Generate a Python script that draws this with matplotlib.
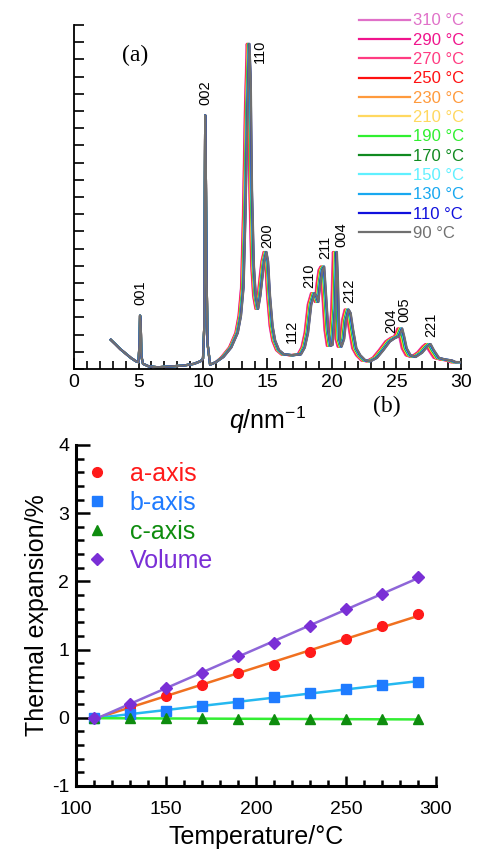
import numpy as np
import matplotlib
matplotlib.use("Agg")
import matplotlib.pyplot as plt
from matplotlib.ticker import MultipleLocator

plt.rcParams["font.family"] = ["Liberation Sans", "DejaVu Sans"]
plt.rcParams["mathtext.fontset"] = "custom"
plt.rcParams["mathtext.rm"] = "Liberation Sans"
plt.rcParams["mathtext.it"] = "Liberation Sans:italic"
plt.rcParams["axes.unicode_minus"] = False

# ---- (a) diffraction profiles, 90 °C profile ----
q_90 = [2.85, 3.2, 3.6, 4.0, 4.4, 4.8, 5.0, 5.08, 5.12, 5.17, 5.22, 5.35, 5.8,
        6.5, 7.5, 8.5, 9.3, 9.8, 10.0, 10.1, 10.17, 10.22, 10.27, 10.35,
        10.55, 11.0, 11.6, 12.2, 12.7, 12.95, 13.15, 13.3, 13.45, 13.6, 13.7,
        13.8, 13.95, 14.1, 14.28, 14.45, 14.6, 14.75, 14.92, 15.05, 15.2, 15.4,
        15.6, 15.9, 16.3, 17.0, 17.6, 17.9, 18.15, 18.4, 18.65, 18.8, 18.95,
        19.1, 19.25, 19.4, 19.55, 19.72, 19.9, 20.05, 20.25, 20.38, 20.47,
        20.58, 20.75, 20.95, 21.1, 21.3, 21.45, 21.65, 21.9, 22.2, 22.6, 23.0,
        23.5, 24.0, 24.5, 24.9, 25.2, 25.45, 25.6, 25.8, 26.1, 26.5, 27.0,
        27.4, 27.65, 27.9, 28.3, 28.8, 29.3, 29.6, 30.0]
I_90 = [0.34, 0.29, 0.23, 0.18, 0.13, 0.09, 0.08, 0.3, 0.62, 0.55, 0.15, 0.06,
        0.03, 0.02, 0.03, 0.04, 0.06, 0.09, 0.12, 0.5, 2.95, 2.3, 1.2, 0.3,
        0.05, 0.08, 0.14, 0.25, 0.42, 0.62, 0.95, 1.8, 3.0, 3.78, 3.4,
        2.1, 1.2, 0.85, 0.7, 0.85, 1.05, 1.25, 1.36, 1.25, 0.85, 0.5, 0.33,
        0.22, 0.17, 0.16, 0.17, 0.25, 0.42, 0.75, 0.88, 0.85, 0.78, 1.0, 1.15,
        1.19, 0.85, 0.45, 0.27, 0.28, 0.7, 1.36, 1.0, 0.35, 0.26, 0.35, 0.57,
        0.69, 0.65, 0.45, 0.24, 0.16, 0.1, 0.09, 0.13, 0.22, 0.32, 0.36, 0.38,
        0.47, 0.38, 0.24, 0.16, 0.14, 0.19, 0.26, 0.29, 0.22, 0.13, 0.11, 0.1,
        0.08, 0.08]

temps_a = [310, 290, 270, 250, 230, 210, 190, 170, 150, 130, 110, 90]
# shift of the hk0 peaks to lower q at each temperature (%), read from 110
shift_pct = [1.55, 1.4, 1.25, 1.1, 0.95, 0.8, 0.65, 0.5, 0.35, 0.2, 0.1, 0.0]
colors_a = ["#E070C8", "#F0148C", "#FF3C82", "#FF1010", "#FF9A3C", "#FFD860",
            "#30F030", "#108A20", "#60F0FF", "#18A8F0", "#1010DD", "#707070"]

peak_labels = ["001", "002", "110", "200", "112", "210", "211", "004", "212",
               "204", "005", "221"]
peak_q = [5.17, 10.2, 14.4, 15.0, 16.9, 18.2, 19.5, 20.7, 21.3, 24.6, 25.6, 27.7]
peak_I = [0.74, 3.07, 3.56, 1.41, 0.3, 0.94, 1.28, 1.42, 0.77, 0.42, 0.55, 0.37]

# ---- (b) thermal expansion ----
temps_b = [110, 130, 150, 170, 190, 210, 230, 250, 270, 290]
a_axis = [0.0, 0.16, 0.32, 0.48, 0.66, 0.78, 0.97, 1.15, 1.34, 1.52]
b_axis = [0.0, 0.06, 0.10, 0.17, 0.22, 0.31, 0.36, 0.42, 0.48, 0.53]
c_axis = [0.0, -0.01, -0.01, -0.01, -0.02, -0.02, -0.02, -0.02, -0.02, -0.02]
volume = [0.0, 0.20, 0.43, 0.65, 0.91, 1.09, 1.34, 1.59, 1.82, 2.07]

fig = plt.figure(figsize=(4.79, 8.5), dpi=100)
ax1 = fig.add_axes([0.1545, 0.5659, 0.8079, 0.4047])
ax2 = fig.add_axes([0.1587, 0.0753, 0.7513, 0.4012])

q_arr = np.array(q_90)
hk0 = q_arr > 11
for t, s, c in zip(temps_a, shift_pct, colors_a):
    q_t = np.where(hk0, q_arr * (1 - s / 100.0), q_arr)
    ax1.plot(q_t, I_90, color=c, lw=1.6, label=f"{t} °C")

for lab, q, i in zip(peak_labels, peak_q, peak_I):
    ax1.text(q, i, lab, rotation=90, ha="center", va="bottom", fontsize=10.5)

ax1.set_xlim(0, 30)
ax1.set_ylim(0, 4)
ax1.xaxis.set_major_locator(MultipleLocator(5))
ax1.xaxis.set_minor_locator(MultipleLocator(1))
ax1.yaxis.set_major_locator(MultipleLocator(1))
ax1.yaxis.set_minor_locator(MultipleLocator(0.2))
ax1.set_yticklabels([])
ax1.tick_params(which="both", direction="in", width=1.2, labelsize=14)
ax1.tick_params(which="major", length=8)
ax1.tick_params(which="minor", length=6)
ax1.tick_params(axis="y", which="both", length=7)
for sp in ["top", "right"]:
    ax1.spines[sp].set_visible(False)
for sp in ["left", "bottom"]:
    ax1.spines[sp].set_linewidth(1.3)
ax1.set_xlabel(r"$\it{q}$/nm$^{-1}$", fontsize=18, labelpad=10)
ax1.text(0.158, 0.91, "(a)", transform=ax1.transAxes, fontsize=17,
         family="Liberation Serif", ha="center", va="center")

leg1 = ax1.legend(loc="upper right", bbox_to_anchor=(1.03, 1.058),
                  frameon=False, fontsize=12, handlelength=3.05,
                  handletextpad=0.2, labelspacing=0.26, borderpad=0)
for txt, c in zip(leg1.get_texts(), colors_a):
    txt.set_color(c)

fig.text(387 / 479, 1 - 406 / 850, "(b)", fontsize=17,
         family="Liberation Serif", ha="center", va="center")

# bottom panel
t_arr = np.array(temps_b, dtype=float)
series = [
    ("a-axis", a_axis, "o", "#FF1A1A", "#F07020", 7),
    ("b-axis", b_axis, "s", "#1F7BFF", "#25B8F0", 6.5),
    ("c-axis", c_axis, "^", "#0E8C0E", "#33EE33", 6.5),
    ("Volume", volume, "D", "#7A2FD6", "#8E66D8", 6.5),
]
handles = []
for name, vals, mk, mc, lc, ms in series:
    fit = np.polyfit(t_arr, vals, 1)
    ax2.plot(t_arr, np.polyval(fit, t_arr), color=lc, lw=1.8, zorder=2)
    h, = ax2.plot(t_arr, vals, mk, color=mc, ms=ms, ls="none", zorder=3,
                  label=name)
    handles.append(h)

ax2.set_xlim(100, 300)
ax2.set_ylim(-1, 4)
ax2.xaxis.set_major_locator(MultipleLocator(50))
ax2.xaxis.set_minor_locator(MultipleLocator(10))
ax2.yaxis.set_major_locator(MultipleLocator(1))
ax2.yaxis.set_minor_locator(MultipleLocator(0.2))
ax2.tick_params(which="both", direction="in", width=1.8, labelsize=14)
ax2.tick_params(axis="y", which="major", length=10, pad=5)
ax2.tick_params(axis="y", which="minor", length=6)
ax2.tick_params(axis="x", which="major", length=7, pad=11)
ax2.tick_params(axis="x", which="minor", length=4)
for sp in ["top", "right"]:
    ax2.spines[sp].set_visible(False)
for sp in ["left", "bottom"]:
    ax2.spines[sp].set_linewidth(2.2)
ax2.set_xlabel("Temperature/°C", fontsize=18, labelpad=5)
ax2.set_ylabel("Thermal expansion/%", fontsize=18, labelpad=2)

leg2 = ax2.legend(handles=handles, loc="upper left",
                  bbox_to_anchor=(-0.01, 1.002), frameon=False, fontsize=18,
                  handlelength=0.6, handletextpad=1.0, labelspacing=0.2,
                  borderpad=0.2)
for txt, (_, _, _, mc, _, _) in zip(leg2.get_texts(), series):
    txt.set_color(mc)

fig.savefig("out.png", dpi=100)
